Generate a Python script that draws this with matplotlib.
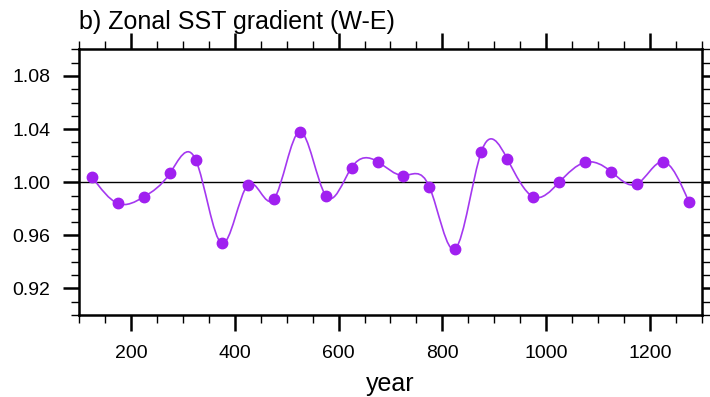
import numpy as np
import matplotlib
matplotlib.use("Agg")
import matplotlib.pyplot as plt
from matplotlib.path import Path
from matplotlib.patches import PathPatch
from matplotlib.ticker import MultipleLocator

plt.rcParams['font.family'] = ['Liberation Sans', 'DejaVu Sans']

# data
years = [125, 175, 225, 275, 325, 375, 425, 475, 525, 575, 625, 675,
         725, 775, 825, 875, 925, 975, 1025, 1075, 1125, 1175, 1225, 1275]
grad = [1.004, 0.984, 0.989, 1.0067, 1.0167, 0.954, 0.998, 0.987, 1.038, 0.990, 1.011, 1.0155,
        1.005, 0.9965, 0.950, 1.023, 1.0175, 0.989, 1.000, 1.015, 1.008, 0.9987, 1.0155, 0.985]
title = 'b) Zonal SST gradient (W-E)'
xlabel = 'year'
purple = '#A020F0'

x = np.array(years, dtype=float)
y = np.array(grad)

# slopes of a natural cubic spline -> bezier control points, so the curve is drawn as a path
n = len(x)
h = np.diff(x)
A = np.zeros((n, n))
b = np.zeros(n)
A[0, 0] = A[-1, -1] = 1
for i in range(1, n - 1):
    A[i, i - 1] = h[i - 1]
    A[i, i] = 2 * (h[i - 1] + h[i])
    A[i, i + 1] = h[i]
    b[i] = 6 * ((y[i + 1] - y[i]) / h[i] - (y[i] - y[i - 1]) / h[i - 1])
M = np.linalg.solve(A, b)
d = np.zeros(n)
d[:-1] = (y[1:] - y[:-1]) / h - h / 6 * (2 * M[:-1] + M[1:])
d[-1] = (y[-1] - y[-2]) / h[-1] + h[-1] / 6 * (M[-2] + 2 * M[-1])

verts = [(x[0], y[0])]
codes = [Path.MOVETO]
for i in range(n - 1):
    verts += [(x[i] + h[i] / 3, y[i] + h[i] / 3 * d[i]),
              (x[i + 1] - h[i] / 3, y[i + 1] - h[i] / 3 * d[i + 1]),
              (x[i + 1], y[i + 1])]
    codes += [Path.CURVE4] * 3

fig = plt.figure(figsize=(7.1, 3.97), dpi=100)
ax = fig.add_axes([0.1113, 0.2065, 0.8774, 0.669])

ax.axhline(1.0, color='black', lw=1.0, zorder=1)
ax.add_patch(PathPatch(Path(verts, codes), fill=False, edgecolor='#A438F0', lw=1.2, zorder=2))
ax.plot(x, y, 'o', color=purple, ms=7.5, zorder=3)

ax.set_xlim(100, 1300)
ax.set_ylim(0.90, 1.10)
ax.xaxis.set_major_locator(MultipleLocator(200))
ax.xaxis.set_minor_locator(MultipleLocator(50))
ax.yaxis.set_minor_locator(MultipleLocator(0.01))
ax.set_yticks([0.92, 0.96, 1.00, 1.04, 1.08])
ax.set_yticklabels(['0.92', '0.96', '1.00', '1.04', '1.08'])

for s in ax.spines.values():
    s.set_linewidth(1.8)
ax.tick_params(which='both', direction='out', top=True, right=True, labelsize=14)
ax.tick_params(axis='x', which='major', length=11.5, width=1.8, pad=10)
ax.tick_params(axis='y', which='major', length=11.5, width=1.8, pad=9)
ax.tick_params(which='minor', length=5.5, width=1.0)

ax.set_xlabel(xlabel, fontsize=18, labelpad=7)
ax.set_title(title, loc='left', fontsize=18, pad=15)

fig.savefig('out.png', dpi=100)
